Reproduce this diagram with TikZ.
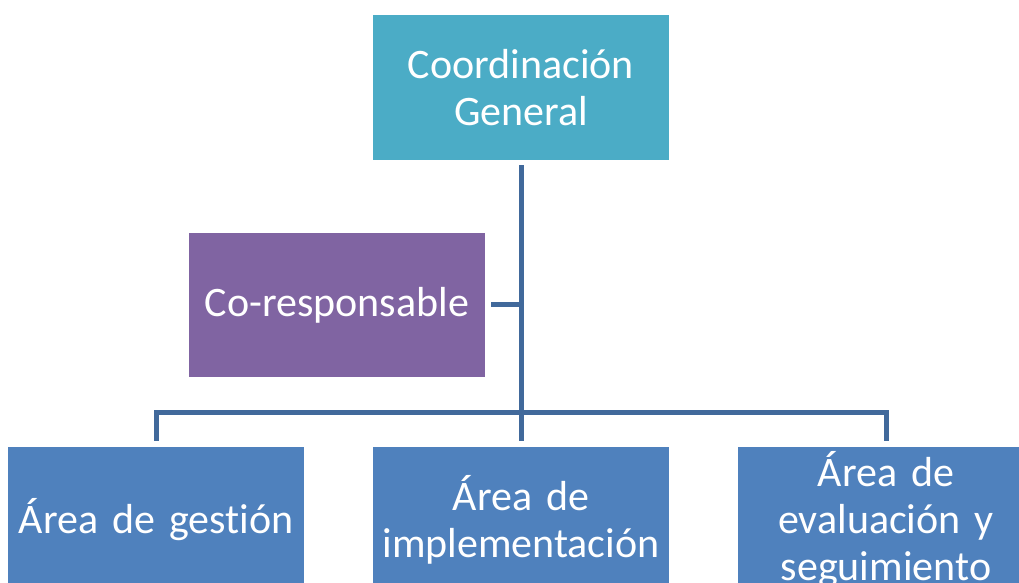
\documentclass[tikz,border=0pt]{standalone}
\usepackage{fontspec}
\setmainfont{Carlito}
\usepackage{xcolor}
\usepackage{tikz}
\definecolor{teal1}{HTML}{4BACC6}
\definecolor{purple1}{HTML}{8064A2}
\definecolor{blue1}{HTML}{4F81BD}
\definecolor{line1}{HTML}{41699B}
\begin{document}
\begin{tikzpicture}[x=1pt,y=1pt,
    box/.style={rectangle,minimum width=296pt,minimum height=145pt,inner sep=0pt,
      text width=294pt,align=center,text=white,font=\fontsize{42}{47}\selectfont},
    conn/.style={draw=line1,line width=5pt}]
    \useasboundingbox (0,0) rectangle (1019,583);
    \clip (0,0) rectangle (1019,583);
    \node[box,fill=teal1] (coord) at (521,495.5) {Coordinación\\General};
    \node[box,fill=purple1,minimum height=144pt] (cores) at (337,278) {Co-responsable};
    \foreach \n/\x/\t in {
     1/156/{Área de gest\kern0pt ión},2/521/{Área de\\implementación},3/886/{Área de\\evaluación y\\seguimiento}
     } {
      \node[box,fill=blue1] (a\n) at (\x,63.5) {\t};
     }
    \coordinate (bus) at (521,170);
    \draw[conn] ([yshift=-5pt]coord.south) -- ([yshift=6pt]a2.north);
    \draw[conn] ([yshift=6pt]a1.north) |- (bus) -| ([yshift=6pt]a3.north);
    \draw[conn] ([xshift=6pt]cores.east) -- (cores.east -| coord.south);
   \end{tikzpicture}
\end{document}
